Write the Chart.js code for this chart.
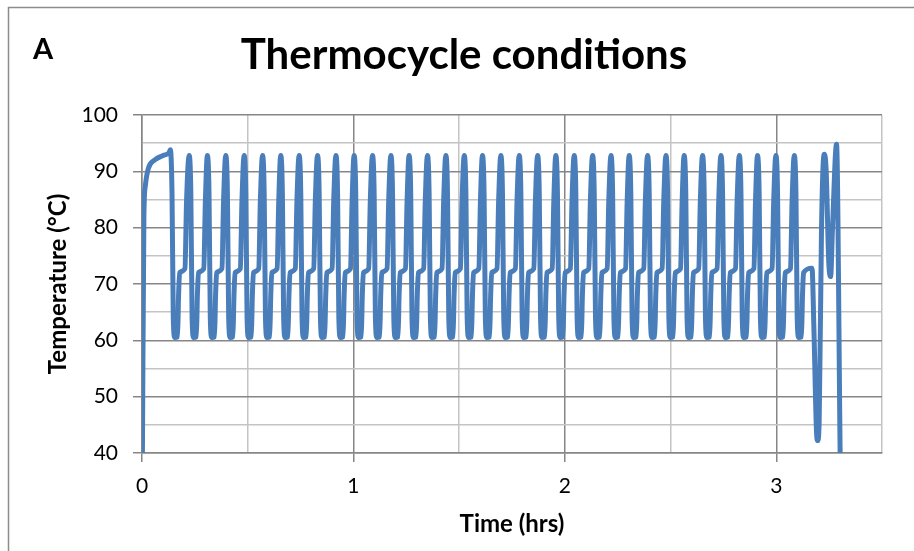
<!DOCTYPE html>
<html>
<head>
<meta charset="utf-8">
<script src="https://cdn.jsdelivr.net/npm/chart.js@4"></script>
<style>
  html, body { margin: 0; padding: 0; background: #fff; overflow: hidden; }
  #wrap { position: relative; width: 914px; height: 551px; }
</style>
</head>
<body>
<div id="wrap"><canvas id="thermo" width="914" height="551"></canvas></div>
<script>
const timeHrs = [
  0.002, 0.009, 0.016, 0.030, 0.060, 0.100, 0.128, 0.134, 0.142, 0.148, 0.155, 0.168, 0.173, 0.178, 0.203, 0.211,
  0.223, 0.231, 0.237, 0.244, 0.257, 0.262, 0.267, 0.292, 0.300,
  0.309, 0.317, 0.323, 0.330, 0.343, 0.348, 0.353, 0.378, 0.386,
  0.396, 0.404, 0.410, 0.417, 0.430, 0.435, 0.440, 0.465, 0.473,
  0.483, 0.491, 0.497, 0.504, 0.517, 0.522, 0.527, 0.552, 0.560,
  0.570, 0.578, 0.584, 0.591, 0.604, 0.609, 0.614, 0.639, 0.647,
  0.656, 0.664, 0.670, 0.677, 0.690, 0.695, 0.700, 0.725, 0.733,
  0.743, 0.751, 0.757, 0.764, 0.777, 0.782, 0.787, 0.812, 0.820,
  0.830, 0.838, 0.844, 0.851, 0.864, 0.869, 0.874, 0.899, 0.907,
  0.917, 0.925, 0.931, 0.938, 0.951, 0.956, 0.961, 0.986, 0.994,
  1.003, 1.011, 1.017, 1.024, 1.037, 1.042, 1.047, 1.072, 1.080,
  1.090, 1.098, 1.104, 1.111, 1.124, 1.129, 1.134, 1.159, 1.167,
  1.177, 1.185, 1.191, 1.198, 1.211, 1.216, 1.221, 1.246, 1.254,
  1.263, 1.271, 1.277, 1.284, 1.297, 1.302, 1.307, 1.332, 1.340,
  1.350, 1.358, 1.364, 1.371, 1.384, 1.389, 1.394, 1.419, 1.427,
  1.437, 1.445, 1.451, 1.458, 1.471, 1.476, 1.481, 1.506, 1.514,
  1.524, 1.532, 1.538, 1.545, 1.558, 1.563, 1.568, 1.593, 1.601,
  1.610, 1.618, 1.624, 1.631, 1.644, 1.649, 1.654, 1.679, 1.687,
  1.697, 1.705, 1.711, 1.718, 1.731, 1.736, 1.741, 1.766, 1.774,
  1.784, 1.792, 1.798, 1.805, 1.818, 1.823, 1.828, 1.853, 1.861,
  1.871, 1.879, 1.885, 1.892, 1.905, 1.910, 1.915, 1.940, 1.948,
  1.957, 1.965, 1.971, 1.978, 1.991, 1.996, 2.001, 2.026, 2.034,
  2.044, 2.052, 2.058, 2.065, 2.078, 2.083, 2.088, 2.113, 2.121,
  2.131, 2.139, 2.145, 2.152, 2.165, 2.170, 2.175, 2.200, 2.208,
  2.218, 2.226, 2.232, 2.239, 2.252, 2.257, 2.262, 2.287, 2.295,
  2.304, 2.312, 2.318, 2.325, 2.338, 2.343, 2.348, 2.373, 2.381,
  2.391, 2.399, 2.405, 2.412, 2.425, 2.430, 2.435, 2.460, 2.468,
  2.478, 2.486, 2.492, 2.499, 2.512, 2.517, 2.522, 2.547, 2.555,
  2.564, 2.572, 2.578, 2.585, 2.598, 2.603, 2.608, 2.633, 2.641,
  2.651, 2.659, 2.665, 2.672, 2.685, 2.690, 2.695, 2.720, 2.728,
  2.738, 2.746, 2.752, 2.759, 2.772, 2.777, 2.782, 2.807, 2.815,
  2.825, 2.833, 2.839, 2.846, 2.859, 2.864, 2.869, 2.894, 2.902,
  2.911, 2.919, 2.925, 2.932, 2.945, 2.950, 2.955, 2.980, 2.988,
  2.998, 3.006, 3.012, 3.019, 3.032, 3.037, 3.042, 3.067, 3.075,
  3.085, 3.093, 3.099, 3.106, 3.119, 3.124, 3.129,
  3.169, 3.178, 3.190, 3.196, 3.203, 3.214, 3.222, 3.228, 3.236, 3.248, 3.257, 3.266, 3.285, 3.302
];

const tempC = [
  40, 82, 87.5, 90.5, 92.0, 92.8, 93.3, 93.8, 86, 64, 60.5, 60.6, 68, 72, 72.7, 85,
  92.8, 86, 64, 60.5, 60.6, 68, 72, 72.7, 85,
  92.8, 86, 64, 60.5, 60.6, 68, 72, 72.7, 85,
  92.8, 86, 64, 60.5, 60.6, 68, 72, 72.7, 85,
  92.8, 86, 64, 60.5, 60.6, 68, 72, 72.7, 85,
  92.8, 86, 64, 60.5, 60.6, 68, 72, 72.7, 85,
  92.8, 86, 64, 60.5, 60.6, 68, 72, 72.7, 85,
  92.8, 86, 64, 60.5, 60.6, 68, 72, 72.7, 85,
  92.8, 86, 64, 60.5, 60.6, 68, 72, 72.7, 85,
  92.8, 86, 64, 60.5, 60.6, 68, 72, 72.7, 85,
  92.8, 86, 64, 60.5, 60.6, 68, 72, 72.7, 85,
  92.8, 86, 64, 60.5, 60.6, 68, 72, 72.7, 85,
  92.8, 86, 64, 60.5, 60.6, 68, 72, 72.7, 85,
  92.8, 86, 64, 60.5, 60.6, 68, 72, 72.7, 85,
  92.8, 86, 64, 60.5, 60.6, 68, 72, 72.7, 85,
  92.8, 86, 64, 60.5, 60.6, 68, 72, 72.7, 85,
  92.8, 86, 64, 60.5, 60.6, 68, 72, 72.7, 85,
  92.8, 86, 64, 60.5, 60.6, 68, 72, 72.7, 85,
  92.8, 86, 64, 60.5, 60.6, 68, 72, 72.7, 85,
  92.8, 86, 64, 60.5, 60.6, 68, 72, 72.7, 85,
  92.8, 86, 64, 60.5, 60.6, 68, 72, 72.7, 85,
  92.8, 86, 64, 60.5, 60.6, 68, 72, 72.7, 85,
  92.8, 86, 64, 60.5, 60.6, 68, 72, 72.7, 85,
  92.8, 86, 64, 60.5, 60.6, 68, 72, 72.7, 85,
  92.8, 86, 64, 60.5, 60.6, 68, 72, 72.7, 85,
  92.8, 86, 64, 60.5, 60.6, 68, 72, 72.7, 85,
  92.8, 86, 64, 60.5, 60.6, 68, 72, 72.7, 85,
  92.8, 86, 64, 60.5, 60.6, 68, 72, 72.7, 85,
  92.8, 86, 64, 60.5, 60.6, 68, 72, 72.7, 85,
  92.8, 86, 64, 60.5, 60.6, 68, 72, 72.7, 85,
  92.8, 86, 64, 60.5, 60.6, 68, 72, 72.7, 85,
  92.8, 86, 64, 60.5, 60.6, 68, 72, 72.7, 85,
  92.8, 86, 64, 60.5, 60.6, 68, 72, 72.7, 85,
  92.8, 86, 64, 60.5, 60.6, 68, 72, 72.7, 85,
  92.8, 86, 64, 60.5, 60.6, 68, 72,
  72.8, 62, 44, 42.2, 46, 80, 91.5, 93, 90, 74, 71.3, 80, 94.8, 40
];

const yTickValues = [40, 50, 60, 70, 80, 90, 100];
const xTickValues = [0, 1, 2, 3];

const FONT = 'Lato, "Open Sans", "DejaVu Sans", sans-serif';
const MAJOR = '#868686';
const MINOR = '#c4c4c4';

// frame round the whole chart and the panel letter
const framePlugin = {
  id: 'frame',
  beforeDraw(chart) {
    const ctx = chart.ctx;
    ctx.save();
    ctx.fillStyle = '#fff';
    ctx.fillRect(0, 0, chart.width, chart.height);
    ctx.strokeStyle = '#8c8c8c';
    ctx.lineWidth = 1.5;
    ctx.strokeRect(8.5, 7.5, 1200, 1200);
    ctx.restore();
  },
  afterDraw(chart) {
    const ctx = chart.ctx;
    ctx.save();
    ctx.fillStyle = '#000';
    ctx.font = 'bold 29px ' + FONT;
    ctx.textBaseline = 'alphabetic';
    ctx.fillText('A', 33, 59);
    ctx.restore();
  }
};

const points = timeHrs.map((t, i) => ({ x: t, y: tempC[i] }));

new Chart(document.getElementById('thermo'), {
  type: 'line',
  data: {
    datasets: [{
      data: points,
      borderColor: '#4a7ebb',
      borderWidth: 5,
      pointRadius: 0,
      fill: false,
      cubicInterpolationMode: 'monotone'
    }]
  },
  options: {
    responsive: false,
    animation: false,
    events: [],
    layout: { padding: { left: 46, right: 32, top: 0, bottom: 0 } },
    plugins: {
      legend: { display: false },
      tooltip: { enabled: false },
      title: {
        display: true,
        text: 'Thermocycle conditions',
        color: '#000',
        font: { family: FONT, size: 42, weight: 'bold' },
        padding: { top: 30.5, bottom: 34 }
      }
    },
    scales: {
      x: {
        type: 'linear',
        min: 0,
        max: 3.5,
        afterFit: (s) => { s.height = 98; },
        afterBuildTicks: (s) => {
          s.ticks = [0, 0.5, 1, 1.5, 2, 2.5, 3, 3.5].map(v => ({ value: v }));
        },
        ticks: {
          color: '#000',
          font: { family: FONT, size: 21 },
          padding: 12,
          maxRotation: 0,
          autoSkip: false,
          callback: (v) => xTickValues.includes(v) ? String(v) : ''
        },
        grid: {
          color: (c) => Number.isInteger(c.tick && c.tick.value) ? MAJOR : MINOR,
          tickColor: (c) => Number.isInteger(c.tick && c.tick.value) ? MAJOR : 'rgba(0,0,0,0)',
          tickLength: 9,
          lineWidth: 1.5
        },
        border: { color: MAJOR, width: 1.5 },
        title: {
          display: true,
          text: 'Time (hrs)',
          color: '#000',
          font: { family: FONT, size: 24, weight: 'bold', lineHeight: 1 },
          padding: { top: 0, bottom: 15 }
        }
      },
      y: {
        min: 40,
        max: 100,
        afterFit: (s) => { s.width = 96; },
        afterBuildTicks: (s) => {
          s.ticks = [40, 45, 50, 55, 60, 65, 70, 75, 80, 85, 90, 95, 100].map(v => ({ value: v }));
        },
        ticks: {
          color: '#000',
          font: { family: FONT, size: 21 },
          padding: 15,
          autoSkip: false,
          callback: (v) => yTickValues.includes(v) ? String(v) : ''
        },
        grid: {
          color: (c) => (c.tick && c.tick.value % 10 === 0) ? MAJOR : MINOR,
          tickColor: (c) => (c.tick && c.tick.value % 10 === 0) ? MAJOR : 'rgba(0,0,0,0)',
          tickLength: 9,
          lineWidth: 1.5
        },
        border: { color: MAJOR, width: 1.5 },
        title: {
          display: true,
          text: 'Temperature (°C)',
          color: '#000',
          font: { family: FONT, size: 24, weight: 'bold', lineHeight: 1 },
          padding: { top: 0, bottom: 0 }
        }
      }
    }
  },
  plugins: [framePlugin]
});
</script>
</body>
</html>
